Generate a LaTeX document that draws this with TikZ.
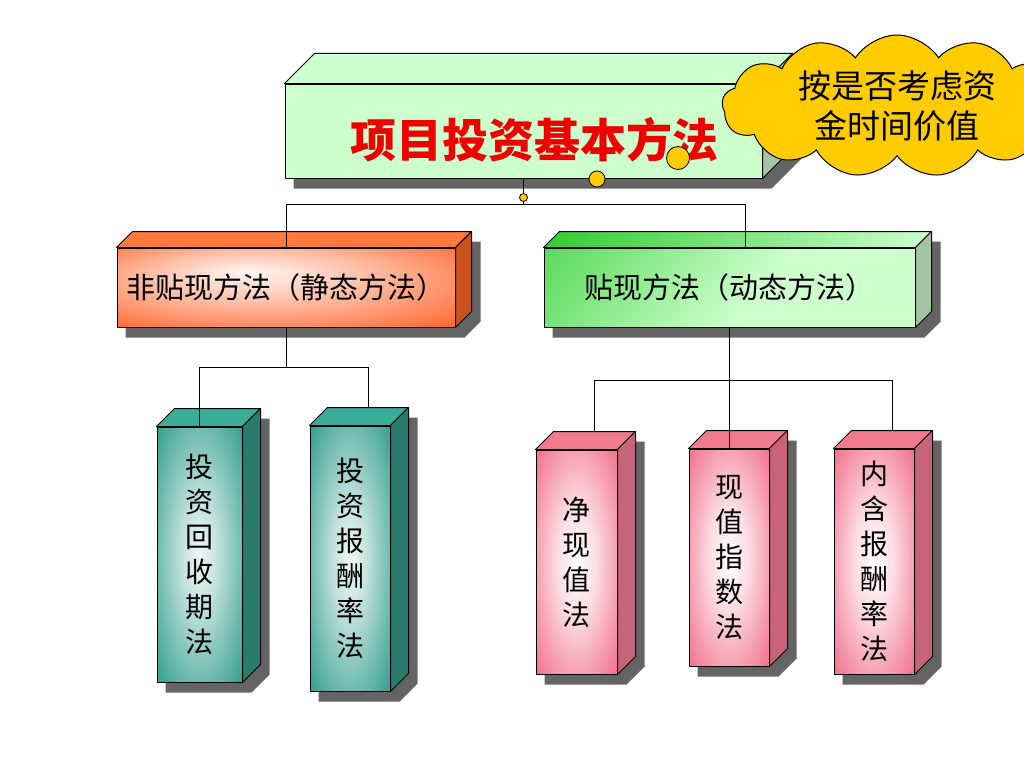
\documentclass[tikz,border=0pt]{standalone}
\usepackage{fontspec}
\newfontfamily\cjk{Noto Sans CJK SC}
\usetikzlibrary{calc}
\usetikzlibrary{backgrounds}
\usetikzlibrary{shapes.symbols}

\definecolor{mintface}{HTML}{CCFFCC}
\definecolor{mintside}{HTML}{A4C4A4}
\definecolor{leafgreen}{HTML}{33CC33}
\definecolor{tealface}{HTML}{2F9C8C}
\definecolor{tealtop}{HTML}{3AAC9A}
\definecolor{tealside}{HTML}{2A7A6E}
\definecolor{pinkface}{HTML}{F06482}
\definecolor{pinktop}{HTML}{F07A8E}
\definecolor{pinkside}{HTML}{C8647A}
\definecolor{orangeface}{HTML}{FF5F24}
\definecolor{orangetop}{HTML}{FF7A3C}
\definecolor{orangeside}{HTML}{C8521E}
\definecolor{cloudgold}{HTML}{FFCC00}
\definecolor{titlered}{HTML}{EE0000}
\definecolor{shadowgray}{HTML}{646464}

\pgfdeclareradialshading{tealglow}{\pgfpoint{0bp}{0bp}}{color(0bp)=(white!92!tealface); color(10bp)=(white!72!tealface); color(36bp)=(tealface); color(50bp)=(tealface!85!black)}
\pgfdeclareradialshading{pinkglow}{\pgfpoint{0bp}{0bp}}{color(0bp)=(white); color(12bp)=(white!78!pinkface); color(38bp)=(pinkface); color(50bp)=(pinkface!90!black)}
\pgfdeclareradialshading{orangeglow}{\pgfpoint{-6bp}{10bp}}{color(0bp)=(white!95!orangeface); color(16bp)=(white!60!orangeface); color(40bp)=(orangeface); color(50bp)=(orangeface!92!black)}
\pgfdeclareverticalshading{greensweep}{100bp}{color(0bp)=(mintface); color(45bp)=(mintface); color(72bp)=(leafgreen!50!mintface); color(100bp)=(leafgreen)}

\tikzset{edge/.style={draw=black, line width=1pt, line join=round},
 link/.style={draw=black, line width=0.8pt},
 facebox/.style={edge, inner sep=0pt, align=center},
 titlebox/.style={facebox, fill=mintface, minimum width=477, minimum height=94, text height=58pt, text depth=5pt,
   font=\cjk\bfseries\fontsize{46}{50}\selectfont, text=titlered},
 methodbox/.style={facebox, minimum height=79, font=\cjk\fontsize{29}{34}\selectfont},
 staticbox/.style={methodbox, shade, shading=orangeglow, minimum width=338},
 dynamicbox/.style={methodbox, shade, shading=greensweep, shading angle=50, minimum width=371},
 tealbox/.style={facebox, shade, shading=tealglow, font=\cjk\fontsize{28}{35}\selectfont},
 pinkbox/.style={facebox, shade, shading=pinkglow, font=\cjk\fontsize{28}{35}\selectfont},
 mintroof/.style={fill=mintface}, mintwall/.style={fill=mintside},
 orangeroof/.style={fill=orangetop}, orangewall/.style={fill=orangeside},
 greenroof/.style={left color=leafgreen, right color=mintface}, greenwall/.style={fill=mintside},
 tealroof/.style={fill=tealtop}, tealwall/.style={fill=tealside},
 pinkroof/.style={fill=pinktop}, pinkwall/.style={fill=pinkside},
 bubble/.style={circle, draw=black, line width=0.8pt, fill=cloudgold, inner sep=0pt},
 cloudnote/.style={cloud, cloud puffs=13, cloud puff arc=115, cloud ignores aspect,
   draw=black, line width=1pt, fill=cloudgold, minimum width=350, minimum height=142,
   inner sep=0pt, align=center, font=\cjk\fontsize{33}{40}\selectfont},
 }

\begin{document}
\begin{tikzpicture}[x=1pt, y=-1pt]
        \useasboundingbox (0,0) rectangle (1024,768);

        \node[titlebox] (title) at (523.5,131) {\hspace*{22pt}项目投资基本方法};
        \node[staticbox] (static) at (286,287.5) {非贴现方法（静态方法）};
        \node[dynamicbox] (dynamic) at (729.5,287.5) {贴现方法（动态方法）};
        \node[tealbox, minimum width=85, minimum height=255] (payback) at (199.5,554.5) {投\\资\\回\\收\\期\\法};
        \node[tealbox, minimum width=80, minimum height=265] (rate) at (350,558.5) {投\\资\\报\\酬\\率\\法};
        \node[pinkbox, minimum width=81, minimum height=224] (npv) at (576.5,562) {净\\现\\值\\法};
        \node[pinkbox, minimum width=80, minimum height=217] (index) at (729,557.5) {现\\值\\指\\数\\法};
        \node[pinkbox, minimum width=80, minimum height=225] (irr) at (874,561.5) {内\\含\\报\\酬\\率\\法};

        % roof and wall of each block
        \foreach \n/\d/\col in {title/30/mint, static/16/orange, dynamic/16/green, payback/18/teal,
            rate/18/teal, npv/18/pink, index/18/pink, irr/18/pink} {
            \draw[edge, \col roof] (\n.north west) -- ++(\d,-\d) -- ($(\n.north east)+(\d,-\d)$) -- (\n.north east) -- cycle;
            \draw[edge, \col wall] (\n.north east) -- ++(\d,-\d) -- ($(\n.south east)+(\d,-\d)$) -- (\n.south east) -- cycle;
        }

        % shadows
        \begin{scope}[on background layer]
            \foreach \n/\d in {title/30, static/16, dynamic/16, payback/18, rate/18, npv/18, index/18, irr/18} {
                \fill[shadowgray] ($(\n.south west)+(9,10)$) -- ($(\n.south east)+(9,10)$)
                    -- ($(\n.south east)+(\d+9,10-\d)$) -- ($(\n.north east)+(\d+9,10-\d)$)
                    -- ($(\n.north west)+(\d+9,10-\d)$) -- ($(\n.north west)+(9,10)$) -- cycle;
            }
        \end{scope}

        \draw[link] (title.south) -- ++(0,26) coordinate (bus) -| (static.north);
        \draw[link] (bus) -| ($(dynamic.north)+(16,0)$);
        \draw[link] (static.south) -- ++(0,40) coordinate (lbus) -| (payback.north);
        \draw[link] (lbus) -| ($(rate.north)+(18,-18)$);
        \draw[link] (dynamic.south) -- ++(0,53) coordinate (rbus) -| ($(npv.north)+(18,-18)$);
        \draw[link] (rbus) -| (index.north);
        \draw[link] (rbus) -| ($(irr.north)+(18,-18)$);
        \node[bubble, minimum size=8] (joint) at ($(title.south)+(0,19)$) {};

        \node[cloudnote] (note) at (897,106) {按是否考虑资\\金时间价值};
        \node[bubble, minimum size=23] (bigbubble) at (678,158) {};
        \node[bubble, minimum size=16] (smallbubble) at (597,179) {};
    \end{tikzpicture}
\end{document}
